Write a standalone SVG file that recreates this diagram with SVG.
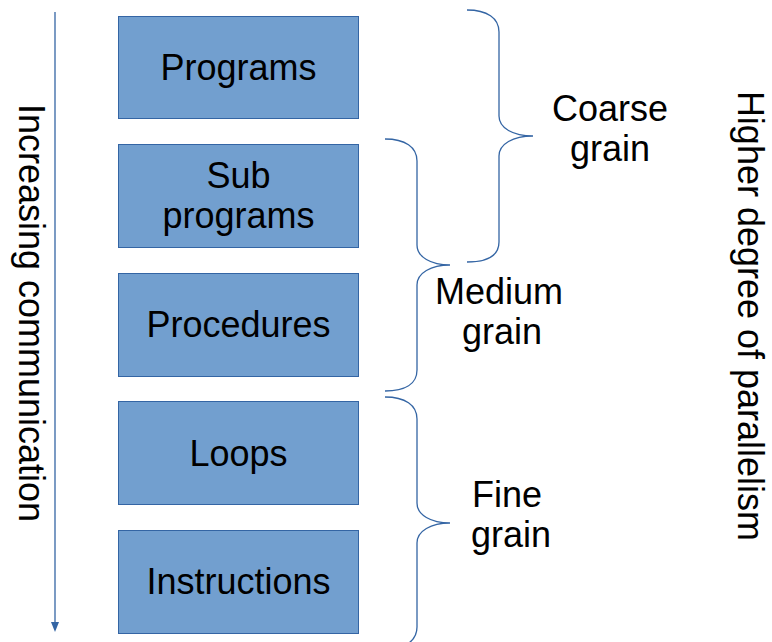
<svg xmlns="http://www.w3.org/2000/svg" width="772" height="642" viewBox="0 0 772 642">
  <style>
    .box { fill: #729fcf; stroke: #3465a4; stroke-width: 1; }
    .lbl { font-family: "Liberation Sans", Arial, sans-serif; font-size: 36px; fill: #000; text-anchor: middle; }
    .brace { fill: none; stroke: #3465a4; stroke-width: 1.3; }
    .axis { stroke: #3465a4; stroke-width: 1.3; fill: none; }
  </style>
  <rect width="772" height="642" fill="#ffffff"/>

  <!-- granularity levels -->
  <g id="programs">
    <rect class="box" x="118.5" y="16.5" width="240" height="102"/>
    <text class="lbl" x="238.5" y="80">Programs</text>
  </g>
  <g id="subprograms">
    <rect class="box" x="118.5" y="144.5" width="240" height="103"/>
    <text class="lbl" x="238.5" y="188">Sub</text>
    <text class="lbl" x="238.5" y="228">programs</text>
  </g>
  <g id="procedures">
    <rect class="box" x="118.5" y="273.5" width="240" height="103"/>
    <text class="lbl" x="238.5" y="337">Procedures</text>
  </g>
  <g id="loops">
    <rect class="box" x="118.5" y="401.5" width="240" height="103"/>
    <text class="lbl" x="238.5" y="466">Loops</text>
  </g>
  <g id="instructions">
    <rect class="box" x="118.5" y="530.5" width="240" height="103"/>
    <text class="lbl" x="238.5" y="594">Instructions</text>
  </g>

  <!-- grouping braces and axis -->
  <g id="connectors">
    <path class="brace" d="M467,10 C487,10 499,18 499,32 L499,116 C499,128 513,136 533,136 C513,136 499,144 499,156 L499,242 C499,256 487,262 467,262"/>
    <path class="brace" d="M385,139 C405,139 417,147 417,161 L417,245 C417,257 431,265 450,265 C431,265 417,273 417,285 L417,370 C417,384 405,391 385,391"/>
    <path class="brace" d="M385,397 C405,397 417,405 417,419 L417,503 C417,515 431,523 450,523 C431,523 417,531 417,543 L417,627 C417,641 405,649 385,649"/>
    <line class="axis" x1="55" y1="12" x2="55" y2="624"/>
    <polygon points="51,622 59,622 55,632" fill="#3465a4"/>
  </g>

  <g id="grain-labels">
    <text class="lbl" x="610" y="121">Coarse</text>
    <text class="lbl" x="610" y="161">grain</text>
    <text class="lbl" x="499" y="304">Medium</text>
    <text class="lbl" x="502" y="344">grain</text>
    <text class="lbl" x="507" y="507">Fine</text>
    <text class="lbl" x="511" y="547">grain</text>
  </g>

  <g id="axis-labels">
    <text class="lbl" x="19" y="313" transform="rotate(90 19 313)">Increasing communication</text>
    <text class="lbl" x="738" y="316" transform="rotate(90 738 316)">Higher degree of parallelism</text>
  </g>
</svg>
